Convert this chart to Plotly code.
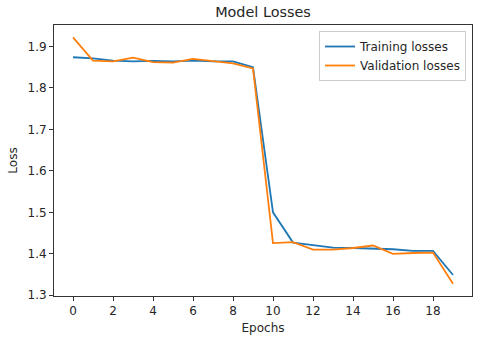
import plotly.graph_objects as go

epochs = list(range(20))
training_losses = [1.874, 1.871, 1.866, 1.864, 1.865, 1.864, 1.866, 1.864, 1.864, 1.850,
                   1.500, 1.427, 1.421, 1.415, 1.414, 1.412, 1.411, 1.407, 1.407, 1.349]
validation_losses = [1.922, 1.866, 1.864, 1.873, 1.862, 1.861, 1.870, 1.864, 1.859, 1.847,
                     1.426, 1.428, 1.410, 1.410, 1.414, 1.420, 1.400, 1.402, 1.403, 1.328]
x_ticks = [0, 2, 4, 6, 8, 10, 12, 14, 16, 18]
y_ticks = [1.3, 1.4, 1.5, 1.6, 1.7, 1.8, 1.9]

W, H = 485, 345
L, R, T, B = 54, 13, 25, 49

fig = go.Figure()
fig.add_trace(go.Scatter(x=epochs, y=training_losses, mode="lines", name="Training losses",
                         line=dict(color="#1f77b4", width=1.8)))
fig.add_trace(go.Scatter(x=epochs, y=validation_losses, mode="lines", name="Validation losses",
                         line=dict(color="#ff7f0e", width=1.8)))

ymin = min(training_losses + validation_losses)
ymax = max(training_losses + validation_losses)
ypad = (ymax - ymin) * 0.05
xpad = (epochs[-1] - epochs[0]) * 0.05

axis_common = dict(showline=True, linecolor="#333333", linewidth=1, mirror=True,
                   ticks="outside", ticklen=4, tickwidth=1, tickcolor="#333333",
                   showgrid=False, zeroline=False, automargin=False,
                   tickfont=dict(family="DejaVu Sans", size=12, color="#262626"))

pw = W - L - R
ph = H - T - B
fig.update_layout(
    width=W, height=H,
    margin=dict(l=L, r=R, t=T, b=B, pad=0),
    paper_bgcolor="white", plot_bgcolor="white",
    font=dict(family="DejaVu Sans", size=12, color="#262626"),
    title=dict(text="Model Losses", x=(L + pw / 2) / W, xanchor="center",
               y=1 - 12 / H, yanchor="middle",
               font=dict(family="DejaVu Sans", size=14.4, color="#262626")),
    xaxis=dict(range=[epochs[0] - xpad, epochs[-1] + xpad], tickvals=x_ticks,
               title=dict(text="Epochs", standoff=6, font=dict(size=12)), **axis_common),
    yaxis=dict(range=[ymin - ypad, ymax + ypad], tickvals=y_ticks, tickformat=".1f",
               title=dict(text="Loss", standoff=7, font=dict(size=12)), **axis_common),
    legend=dict(x=1 - 6 / pw, xanchor="right", y=1 - 6 / ph, yanchor="top",
                bgcolor="rgba(255,255,255,0.8)", bordercolor="#cccccc", borderwidth=1,
                font=dict(family="DejaVu Sans", size=12, color="#262626"),
                tracegroupgap=0),
    showlegend=True,
)

fig.write_html("out.html",
               config={"displayModeBar": False},
               post_script="document.body.style.margin='0px';document.body.style.overflow='hidden';")
